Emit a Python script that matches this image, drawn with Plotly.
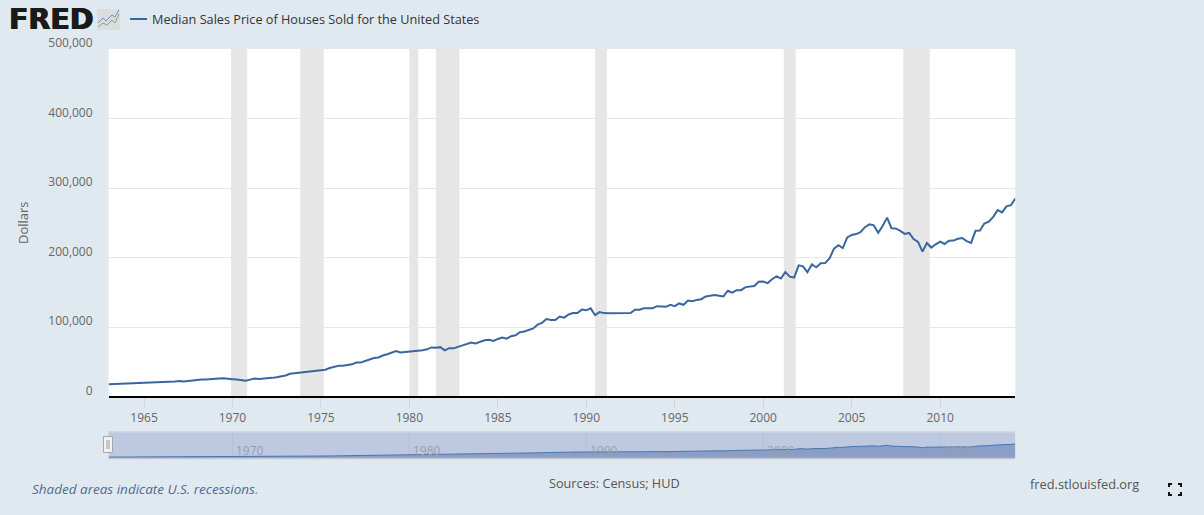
import pandas as pd
import plotly.graph_objects as go

W, H = 1204, 515
SERIES_NAME = "Median Sales Price of Houses Sold for the United States"
prices = [
    17800, 18000, 17900, 18500, 18500, 18900, 18900, 19400,
    19300, 19800, 20200, 20300, 21000, 20900, 20800, 21500,
    22300, 21700, 22300, 23200, 23900, 24400, 24300, 25100,
    25700, 25900, 26100, 26000, 24900, 24400, 23000, 22600,
    24300, 25800, 25300, 25500, 26200, 26800, 27800, 29200,
    30200, 32700, 33500, 34000, 35200, 35600, 36200, 37200,
    38100, 38600, 41000, 43000, 44200, 44400, 45500, 46300,
    48900, 48800, 51000, 53000, 55300, 56100, 59000, 60700,
    63400, 65500, 63300, 63900, 64200, 64600, 65900, 66700,
    67900, 70600, 70200, 71000, 66400, 69500, 69300, 71200,
    73300, 75300, 77600, 76400, 78200, 81000, 81500, 79900,
    82800, 84800, 83300, 86800, 88000, 92500, 93500, 96000,
    97900, 103400, 106000, 111500, 110000, 110000, 115000, 113500,
    118000, 120000, 120000, 125000, 124000, 126800, 117000, 121500,
    120000, 119900, 120000, 120000, 119500, 120000, 120000, 125000,
    125000, 127000, 127000, 127000, 130000, 130000, 129000, 132000,
    130000, 133900, 132000, 138000, 137000, 139000, 140000, 144000,
    145000, 145900, 145000, 144000, 152200, 149500, 153000, 153000,
    157400, 158700, 159000, 165000, 165300, 163200, 168800, 172900,
    169800, 179000, 172500, 171100, 188700, 187200, 178900, 190100,
    186000, 191800, 191900, 198800, 212700, 217600, 213500, 228800,
    232500, 233700, 236400, 243600, 247700, 246300, 235600, 245400,
    257400, 242200, 241800, 238400, 233900, 235300, 226500, 222500,
    208400, 220900, 214300, 219000, 222900, 219500, 224100, 224300,
    226900, 228100, 223500, 221100, 238400, 238700, 248800, 251700,
    258400, 268100, 264800, 273600, 275200, 285000,
]
quarters = pd.date_range("1963-01-01", periods=len(prices), freq="QS")
recession_starts = ["1969-12-01", "1973-11-01", "1980-01-01", "1981-07-01", "1990-07-01", "2001-03-01", "2007-12-01"]
recession_ends = ["1970-11-01", "1975-03-01", "1980-07-01", "1982-11-01", "1991-03-01", "2001-11-01", "2009-06-01"]
navigator_ticks = ["1970-01-01", "1980-01-01", "1990-01-01", "2000-01-01", "2010-01-01"]
navigator_labels = ["1970", "1980", "1990", "2000", "2010"]
x_range = ["1963-01-01", "2014-04-01"]

LINE = "#3a66a0"
FONT = "Open Sans"
def px(x): return x / W
def py(y): return 1 - y / H

fig = go.Figure()
fig.add_trace(go.Scatter(x=quarters, y=prices, mode="lines", name=SERIES_NAME,
                         line=dict(color=LINE, width=2), showlegend=False,
                         xaxis="x", yaxis="y", hoverinfo="x+y"))
fig.add_trace(go.Scatter(x=quarters, y=prices, mode="lines", name="Navigator",
                         line=dict(color="#4a76ad", width=1), fill="tozeroy",
                         fillcolor="#8a9ec6", showlegend=False, xaxis="x2", yaxis="y2",
                         hoverinfo="skip"))

shapes = []
for a, b in zip(recession_starts, recession_ends):
    shapes.append(dict(type="rect", xref="x", yref="y domain", x0=a, x1=b, y0=0, y1=1,
                       fillcolor="#e6e6e6", line_width=0, layer="below"))
shapes.append(dict(type="rect", xref="x2 domain", yref="y2 domain", x0=0, x1=1, y0=0, y1=1,
                   fillcolor="#bcc9e0", line_width=0, layer="below"))
for t in navigator_ticks:
    shapes.append(dict(type="line", xref="x2", yref="y2 domain", x0=t, x1=t, y0=0, y1=1,
                       line=dict(color="#b3c1da", width=1), layer="below"))
def paper_line(x0, y0, x1, y1, color, width):
    return dict(type="line", xref="paper", yref="paper", x0=px(x0), x1=px(x1), y0=py(y0), y1=py(y1),
                line=dict(color=color, width=width))
# navigator borders
shapes.append(paper_line(108, 432, 1015, 432, "#cfd3da", 1.5))
shapes.append(paper_line(108, 458.5, 1015, 458.5, "#c4c8d0", 1.5))
# navigator handle
shapes.append(dict(type="rect", xref="paper", yref="paper", x0=px(103.5), x1=px(112.5), y0=py(436.5), y1=py(452.5),
                   fillcolor="#f2f2f2", line=dict(color="#a8a8a8", width=1)))
shapes.append(paper_line(107, 440, 107, 449, "#999999", 1))
shapes.append(paper_line(109, 440, 109, 449, "#999999", 1))
# legend key
shapes.append(paper_line(130, 19, 147, 19, LINE, 2))
# logo chart icon
def path(points):
    return "M " + " L ".join(f"{px(x):.5f},{py(y):.5f}" for x, y in points)
shapes.append(dict(type="rect", xref="paper", yref="paper", x0=px(97), x1=px(120), y0=py(9), y1=py(30),
                   fillcolor="#d9dde0", line_width=0))
shapes.append(dict(type="path", xref="paper", yref="paper",
                   path=path([(98, 23), (103, 18), (106, 21), (112, 15), (115, 17), (119, 10)]),
                   line=dict(color="#6f8fc0", width=1)))
shapes.append(dict(type="path", xref="paper", yref="paper",
                   path=path([(98, 27), (103, 23), (107, 25), (112, 20), (115, 23), (119, 14)]),
                   line=dict(color="#8aa86a", width=1)))
# fullscreen icon
for pts in ([(1169, 487), (1169, 484), (1172, 484)], [(1178, 484), (1181, 484), (1181, 487)],
            [(1169, 492), (1169, 495), (1172, 495)], [(1178, 495), (1181, 495), (1181, 492)]):
    shapes.append(dict(type="path", xref="paper", yref="paper", path=path(pts),
                       line=dict(color="#111111", width=2)))

def note(text, x, y, size, color, anchor="left", family=FONT, **kw):
    font = dict(family=family, size=size, color=color)
    font.update(kw.pop("font_extra", {}))
    return dict(text=text, x=px(x), y=py(y), xref="paper", yref="paper", showarrow=False,
                xanchor=anchor, yanchor="middle", font=font, **kw)

annotations = [
    note("<b>FRED</b>", 7, 19, 28.5, "#1a1a1a", family="DejaVu Sans",
         font_extra=dict(shadow="0.6px 0 0 #1a1a1a, -0.6px 0 0 #1a1a1a")),
    note(SERIES_NAME, 150, 19, 12.7, "#333333"),
    note("<i>Shaded areas indicate U.S. recessions.</i>", 30, 489, 13.5, "#4f6a92"),
    note("Sources: Census; HUD", 614, 483, 12.7, "#555555", anchor="center"),
    note("fred.stlouisfed.org", 1028, 484, 12.8, "#555555"),
]
for tick, label in zip(navigator_ticks, navigator_labels):
    annotations.append(dict(text=label, x=tick, y=0.3, xref="x2", yref="y2 domain", showarrow=False,
                            xanchor="left", yanchor="middle", xshift=2,
                            font=dict(family=FONT, size=12, color="#979fae")))

fig.update_layout(
    width=W, height=H, margin=dict(l=0, r=0, t=0, b=0, autoexpand=False),
    paper_bgcolor="#e1e9f0", plot_bgcolor="#ffffff",
    font=dict(family=FONT, size=12, color="#666666"),
    showlegend=False, shapes=shapes, annotations=annotations,
    xaxis=dict(domain=[px(108.6), px(1015.3)], anchor="y", range=x_range, type="date",
               dtick="M60", tick0="1965-01-01", tickformat="%Y", showgrid=False,
               ticks="outside", ticklen=10, tickcolor="#ccd6eb", tickwidth=1,
               showline=False, zeroline=False,
               tickfont=dict(size=12, color="#666666")),
    yaxis=dict(domain=[py(396.5), py(49)], anchor="x", range=[0, 500000], dtick=100000,
               tickformat=",d", gridcolor="#e6e6e6", gridwidth=1, ticks="",
               zeroline=True, zerolinecolor="#000000", zerolinewidth=2,
               ticklabelstandoff=15, ticklabelshift=-6,
               title=dict(text="Dollars", font=dict(size=13, color="#666666"), standoff=16),
               tickfont=dict(size=12, color="#666666")),
    xaxis2=dict(domain=[px(108.6), px(1015.3)], anchor="y2", range=x_range, type="date",
                showticklabels=False, showgrid=False, ticks="", showline=False, zeroline=False),
    yaxis2=dict(domain=[py(458), py(432)], anchor="x2", range=[0, 527000], visible=False),
)

fig.write_html("out.html", config=dict(displayModeBar=False),
               post_script="document.body.style.margin='0';document.body.style.overflow='hidden';")
